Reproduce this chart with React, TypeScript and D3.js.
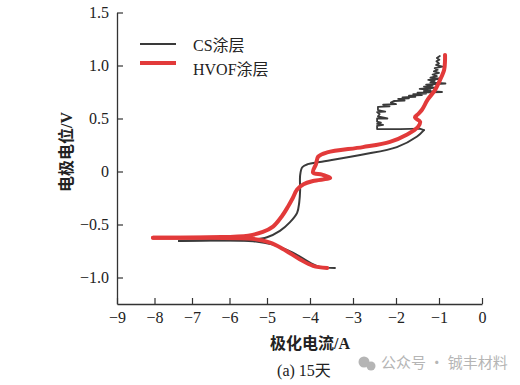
import React, {useEffect, useRef} from "react"
import * as d3 from "d3"

type Pt = [number, number]

const xTicks = [-9, -8, -7, -6, -5, -4, -3, -2, -1, 0]
const yTicks = [-1.0, -0.5, 0, 0.5, 1.0, 1.5]

// CS coating (black)
const csCathodic: Pt[] = [
    [-3.42, -0.91], [-3.77, -0.9], [-4.0, -0.86], [-4.4, -0.765], [-4.86, -0.69],
    [-5.37, -0.657], [-6.5, -0.652], [-7.35, -0.655],
]
const csAnodic: Pt[] = [
    [-7.35, -0.655], [-6.5, -0.649], [-5.4, -0.643], [-5.0, -0.62], [-4.7, -0.56],
    [-4.47, -0.48], [-4.3, -0.39], [-4.25, -0.29], [-4.23, -0.18], [-4.23, -0.04],
    [-4.18, 0.04], [-4.05, 0.07], [-3.77, 0.09], [-2.77, 0.16], [-1.98, 0.23],
    [-1.51, 0.33], [-1.35, 0.39],
]
const csJagged: Pt[] = [
    [-1.35, 0.39], [-1.45, 0.405], [-1.9, 0.4], [-2.44, 0.4], [-2.44, 0.43], [-2.3, 0.44],
    [-2.44, 0.45], [-2.35, 0.46], [-2.44, 0.47], [-2.44, 0.5], [-2.2, 0.5], [-2.42, 0.52],
    [-2.38, 0.54], [-2.44, 0.56], [-2.25, 0.565], [-2.42, 0.58], [-2.42, 0.61], [-2.15, 0.615],
    [-2.3, 0.63], [-2.0, 0.635], [-2.12, 0.65], [-2.05, 0.665], [-1.8, 0.67], [-1.95, 0.685],
    [-1.7, 0.69], [-1.85, 0.7], [-1.55, 0.705], [-1.7, 0.715], [-1.4, 0.72], [-1.6, 0.73],
    [-1.3, 0.735], [-1.5, 0.745], [-0.93, 0.75], [-1.35, 0.76], [-1.2, 0.77], [-1.45, 0.78],
    [-1.1, 0.79], [-1.35, 0.8], [-1.15, 0.81], [-1.3, 0.82], [-0.85, 0.83], [-1.2, 0.84],
    [-1.1, 0.855], [-1.25, 0.865], [-0.95, 0.875], [-1.2, 0.885], [-1.05, 0.9], [-1.15, 0.915],
    [-1.0, 0.93], [-1.12, 0.945], [-1.03, 0.96], [-1.1, 0.975], [-0.92, 0.99], [-1.07, 1.005],
    [-1.0, 1.02], [-1.06, 1.04], [-0.99, 1.055], [-1.05, 1.07], [-0.98, 1.09],
]

// HVOF coating (red)
const hvofCathodic: Pt[] = [
    [-3.6, -0.91], [-3.93, -0.89], [-4.23, -0.83], [-4.63, -0.73], [-4.93, -0.67],
    [-5.4, -0.635], [-6.5, -0.626], [-8.04, -0.625],
]
const hvofAnodic: Pt[] = [
    [-8.04, -0.625], [-6.5, -0.62], [-5.5, -0.605], [-5.11, -0.57], [-4.86, -0.52],
    [-4.65, -0.42], [-4.51, -0.33], [-4.4, -0.25], [-4.3, -0.17], [-4.15, -0.12],
    [-3.93, -0.09], [-3.53, -0.06], [-3.72, -0.03], [-3.93, -0.01], [-3.86, 0.07],
    [-3.81, 0.14], [-3.6, 0.18], [-2.77, 0.23], [-2.14, 0.28], [-1.74, 0.35],
    [-1.49, 0.42], [-1.44, 0.47], [-1.56, 0.51], [-1.49, 0.54], [-1.4, 0.58],
    [-1.26, 0.68], [-1.09, 0.77], [-0.98, 0.86], [-0.88, 0.96], [-0.86, 1.05], [-0.86, 1.1],
]

const serif = "'Liberation Serif', 'Times New Roman', 'Noto Sans CJK SC', serif"

const App = () => {
    const ref = useRef(null)

    useEffect(() => {
        const svg = d3.select(ref.current)
        svg.selectAll("*").remove()

        // the original x axis is not evenly spaced
        const x = d3.scaleLinear().domain([-9, -5, 0]).range([117, 267, 482])
        const y = d3.scaleLinear().domain([-1.25, 1.5]).range([304, 12.5])

        const fmtMinus = (v: number, digits: number) => {
            const s = v === 0 ? "0" : Math.abs(v).toFixed(digits)
            return v < 0 ? "\u2212" + s : s
        }

        const xAxis = svg.append("g")
            .attr("transform", `translate(0,${y(-1.25)})`)
            .call(d3.axisBottom(x).tickValues(xTicks).tickSizeInner(-6).tickSizeOuter(0)
                .tickPadding(8).tickFormat((d: any) => fmtMinus(d, 0)))
        const yAxis = svg.append("g")
            .attr("transform", `translate(${x(-9)},0)`)
            .call(d3.axisLeft(y).tickValues(yTicks).tickSizeInner(-6).tickSizeOuter(0)
                .tickPadding(8).tickFormat((d: any) => fmtMinus(d, 1)))

        for (const g of [xAxis, yAxis]) {
            g.attr("font-family", serif).attr("font-size", 16)
            g.select(".domain").attr("stroke", "#333").attr("stroke-width", 1.3)
            g.selectAll(".tick line").attr("stroke", "#333").attr("stroke-width", 1.2)
            g.selectAll(".tick text").attr("fill", "#222")
        }

        const smooth = d3.line<Pt>().x(d => x(d[0])).y(d => y(d[1])).curve(d3.curveCatmullRom.alpha(0.5))
        const straight = d3.line<Pt>().x(d => x(d[0])).y(d => y(d[1]))

        const curves = svg.append("g").attr("fill", "none")
            .attr("stroke-linejoin", "round").attr("stroke-linecap", "round")

        curves.append("path").attr("d", smooth(csCathodic)).attr("stroke", "#3a3a3a").attr("stroke-width", 2)
        curves.append("path").attr("d", smooth(csAnodic)).attr("stroke", "#3a3a3a").attr("stroke-width", 2)
        curves.append("path").attr("d", straight(csJagged)).attr("stroke", "#3a3a3a").attr("stroke-width", 1.8)

        curves.append("path").attr("d", smooth(hvofCathodic)).attr("stroke", "#e23a3a").attr("stroke-width", 4)
        curves.append("path").attr("d", smooth(hvofAnodic)).attr("stroke", "#e23a3a").attr("stroke-width", 4)

        // legend
        const legend = svg.append("g")
        legend.append("line").attr("x1", 140).attr("x2", 176).attr("y1", 44).attr("y2", 44)
            .attr("stroke", "#3a3a3a").attr("stroke-width", 2)
        legend.append("line").attr("x1", 140).attr("x2", 176).attr("y1", 63).attr("y2", 63)
            .attr("stroke", "#e23a3a").attr("stroke-width", 4)
        legend.append("text").attr("x", 193).attr("y", 51).text("CS涂层")
            .style("font-family", serif).style("font-size", "16px").attr("fill", "#222")
        legend.append("text").attr("x", 193).attr("y", 75).text("HVOF涂层")
            .style("font-family", serif).style("font-size", "16px").attr("fill", "#222")

        // axis titles
        svg.append("text").attr("transform", "translate(72,152) rotate(-90)")
            .attr("text-anchor", "middle").text("电极电位/V")
            .style("font-family", serif).style("font-size", "16px").style("font-weight", "bold").attr("fill", "#222")
        svg.append("text").attr("x", 310).attr("y", 349).attr("text-anchor", "middle").text("极化电流/A")
            .style("font-family", serif).style("font-size", "16px").style("font-weight", "bold").attr("fill", "#222")
        svg.append("text").attr("x", 304).attr("y", 376).attr("text-anchor", "middle").text("(a) 15天")
            .style("font-family", serif).style("font-size", "16px").attr("fill", "#222")

        // watermark
        const wm = svg.append("g").attr("fill", "#b5b5b5")
        wm.append("circle").attr("cx", 364).attr("cy", 362).attr("r", 5.5)
        wm.append("circle").attr("cx", 371).attr("cy", 366).attr("r", 4.5)
        wm.append("text").attr("x", 381).attr("y", 368).text("公众号 · 铖丰材料")
            .style("font-family", "'Noto Sans CJK SC', sans-serif").style("font-size", "15px")
    })

    return (
        <svg ref={ref} width={520} height={385} viewBox="0 0 520 385"
             style={{position: "absolute", left: 0, top: 0, background: "#fff"}}/>
    )
}

export default App
